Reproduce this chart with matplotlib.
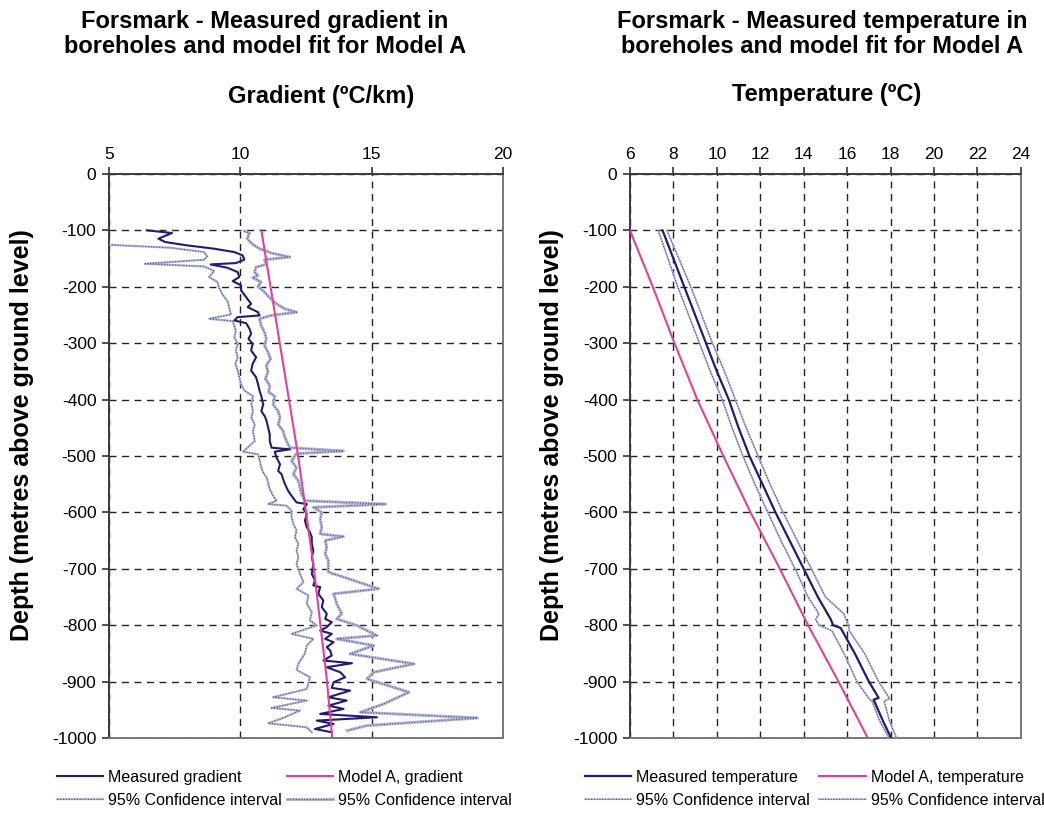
import matplotlib
matplotlib.use("Agg")
import matplotlib.pyplot as plt
from matplotlib.legend_handler import HandlerTuple

plt.rcParams['font.family'] = ['Liberation Sans', 'DejaVu Sans']
plt.rcParams['axes.unicode_minus'] = False

# ---- gradient panel data (depth in m, gradient in ºC/km) ----
grad_depth = [-100, -104.7, -114.8, -120.7, -126.6, -132.5, -138.5, -144.4, -152.1, -158, -160.4,
              -166.3, -174, -182.8, -190, -197.6, -206.5, -218.3, -230.2, -236.1, -245, -250.9,
              -253.8, -259.8, -264.5, -274.6, -283.4, -292.3, -301.2, -313, -324.9, -336.7,
              -348.5, -360.4, -372.2, -384,
              -394, -408.8, -420.6, -429.4, -438.2, -450, -461.8, -473.5, -485.3, -488.2, -492.4,
              -502.9, -514.7, -526.5, -532.4, -541.2, -550, -561.8, -570.6, -582.4, -585.3,
              -594.1, -602.9, -614.7, -626.5, -635.3, -644.1, -655.9, -667.6, -679.4, -691.2,
              -708.9, -720.7, -729.6, -732.5, -744.4, -756.2, -768, -779.9, -788.8, -794.7,
              -803.6, -809.5, -815.4, -824.3, -830.2, -839, -845, -853.8, -862.7, -867.5, -874.6,
              -883.4, -892.3, -901.2, -911.2, -916, -927.8, -933.7, -942.6, -948.5, -957.4,
              -963.3, -969.2, -975.1, -984, -989.9]
grad_meas = [6.44, 7.40, 6.88, 7.14, 7.97, 9.00, 9.77, 10.09, 10.15, 9.83, 8.87,
             9.51, 9.90, 9.96, 9.71, 10.03, 10.03, 10.22, 10.41, 10.28, 10.67, 10.73,
             9.90, 9.77, 10.22, 10.35, 10.41, 10.31, 10.47, 10.41, 10.60, 10.47,
             10.41, 10.60, 10.67, 10.73,
             10.80, 10.87, 10.80, 10.93, 11.00, 11.06, 11.12, 11.12, 11.19, 11.89, 11.31,
             11.38, 11.51, 11.44, 11.57, 11.63, 11.70, 11.82, 11.95, 12.14, 12.53,
             12.40, 12.53, 12.46, 12.53, 12.65, 12.72, 12.72, 12.78, 12.72, 12.78,
             12.72, 12.84, 12.78, 13.04, 12.97, 13.16, 13.10, 13.29, 13.23, 13.48,
             13.29, 13.04, 13.48, 13.23, 13.55, 13.29, 13.42, 13.48, 13.16, 14.25, 13.29,
             13.80, 13.99, 13.55, 13.48, 14.18, 13.35, 14.05, 13.35, 13.93, 13.04,
             15.20, 12.91, 13.55, 12.84, 13.48]

ci_low_depth = [-125.4, -130.8, -138.5, -146.2, -152.1, -159.2, -163.9, -172.2, -182.8, -191.7,
                -201.8, -213.6, -225.4, -237.3, -249.1, -256.8, -260.9, -277.5, -289.3, -301.2,
                -313, -324.9, -336.7, -348.5, -360.4, -372.2, -384,
                -394, -408.8, -420.6, -432.4, -444.1, -455.9, -473.5, -492.4, -497.1, -508.8,
                -520.6, -529.4, -538.2, -547.1, -558.8, -570.6, -579.4, -585.3, -588.2, -597.1,
                -608.8, -620.6, -632.4, -644.1, -655.9, -667.6, -679.4, -691.2,
                -708.9, -723.7, -735.5, -747.3, -762.1, -776.9, -791.7, -800.6, -815.4, -824.3,
                -836.1, -849.7, -868.6, -879.3, -892.3, -913, -927.8, -933.7, -946.7, -951.5,
                -964.5, -974, -981.1, -989.9]
ci_low = [4.90, 7.33, 8.62, 8.74, 8.62, 6.37, 8.62, 9.00, 8.81, 9.13,
          9.19, 9.32, 9.51, 9.58, 9.64, 8.81, 9.71, 9.83, 9.77, 9.90,
          9.83, 9.90, 9.81, 9.90, 9.96, 10.03, 10.15,
          10.48, 10.42, 10.48, 10.42, 10.55, 10.48, 10.55, 10.10, 10.68, 10.74,
          10.80, 10.87, 11.00, 11.06, 11.12, 11.25, 11.38, 11.06, 11.76, 11.95,
          11.95, 12.02, 12.14, 12.08, 12.21, 12.14, 12.21, 12.14,
          12.27, 12.40, 12.14, 12.59, 12.53, 12.72, 12.65, 12.91, 11.95, 12.78,
          12.53, 12.46, 12.21, 12.14, 12.65, 12.53, 11.25, 12.53, 11.19, 12.27,
          11.63, 11.06, 12.53, 12.72]

ci_high_depth = [-101.2, -104.7, -114.8, -124.9, -132.5, -140.2, -147.3, -152.1, -160.4, -165.1,
                 -174, -179.9, -184, -191.7, -199.4, -209.5, -219.5, -230.2, -239.1, -245,
                 -250.9, -256.8, -268.6, -280.5, -292.3, -304.1, -316, -327.8, -339.6, -351.5,
                 -363.3, -375.1, -387,
                 -394, -408.8, -420.6, -432.4, -444.1, -455.9, -467.6, -479.4, -485.3, -491.2,
                 -495.9, -508.8, -520.6, -532.4, -544.1, -555.9, -567.6, -579.4, -585.3, -591.2,
                 -600, -611.8, -626.5, -638.2, -642.9, -650, -661.8, -673.5, -685.3,
                 -705.9, -735.5, -744.4, -762.1, -779.9, -788.8, -800.6, -818.3, -824.3, -836.1,
                 -850.9, -868.6, -883.4, -895.3, -918.9, -939.6, -954.4, -964.5, -978.1, -987]
ci_high = [10.15, 10.35, 10.26, 10.47, 10.73, 11.18, 11.88, 10.92, 10.99, 10.60,
           10.54, 10.67, 10.47, 10.79, 10.67, 10.92, 11.12, 11.37, 11.69, 12.14,
           11.18, 10.73, 10.79, 10.92, 10.99, 10.92, 11.05, 11.15, 10.99, 11.05,
           10.95, 11.12, 11.08,
           11.31, 11.25, 11.44, 11.51, 11.44, 11.63, 11.70, 11.82, 11.89, 13.93,
           12.14, 11.95, 12.14, 12.02, 12.21, 12.27, 12.33, 12.46, 15.52, 12.78,
           13.10, 13.04, 13.10, 13.04, 13.93, 13.23, 13.29, 13.23, 13.35,
           13.35, 15.27, 13.55, 13.67, 13.86, 13.67, 14.44, 15.20, 13.67, 15.08,
           14.18, 16.61, 15.08, 14.82, 16.42, 15.46, 14.57, 19.03, 14.82, 14.06]

model_depth = [-100, -200, -300, -400, -500, -600, -700, -800, -900, -1000]
model_grad = [10.8, 11.15, 11.5, 11.85, 12.2, 12.5, 12.8, 13.05, 13.3, 13.5]

# ---- temperature panel data (ºC) ----
temp_depth = [-100, -150, -200, -250, -300, -350, -400, -450, -500, -550, -600, -650, -700,
              -750, -790, -800, -805, -850, -900, -929, -932, -970, -998]
temp_meas = [7.5, 8.0, 8.5, 9.0, 9.5, 10.0, 10.55, 11.0, 11.5, 12.1, 12.7, 13.35, 14.0,
             14.65, 15.25, 15.35, 15.7, 16.35, 17.0, 17.45, 17.22, 17.65, 18.0]

tci_depth = [-100, -150, -200, -250, -300, -350, -400, -450, -500, -550, -600, -650, -700,
             -750, -780, -790, -800, -810, -850, -900, -930, -935, -970, -998]
tci_low = [7.3, 7.75, 8.2, 8.7, 9.2, 9.7, 10.25, 10.7, 11.2, 11.75, 12.35, 12.95, 13.6,
           14.2, 14.7, 14.55, 14.7, 15.3, 15.85, 16.45, 17.0, 17.15, 17.5, 17.9]
tci_high = [7.7, 8.25, 8.8, 9.3, 9.8, 10.35, 10.85, 11.35, 11.9, 12.45, 13.05, 13.7, 14.35,
            15.0, 15.85, 15.95, 16.05, 16.1, 16.8, 17.45, 17.95, 17.7, 17.95, 18.25]

model_temp = [6.0, 7.05, 8.05, 9.1, 10.3, 11.55, 12.9, 14.2, 15.6, 16.95]

NAVY = '#231b73'
PINK = '#e0429b'
CI_BASE = '#b4b8d4'
CI_DOT = '#4d5390'


def ci_line(ax, x, y, base_lw):
    base, = ax.plot(x, y, color=CI_BASE, lw=base_lw, zorder=3)
    dots, = ax.plot(x, y, color=CI_DOT, lw=0.8, ls=(0, (1, 1.5)), zorder=3)
    return (base, dots)


def style_axes(ax, xmin, xmax, xstep, label_x):
    ax.set_xlim(xmin, xmax)
    ax.set_ylim(-1000, 0)
    ax.set_xticks(range(xmin, xmax + 1, xstep))
    ax.set_yticks(range(-1000, 1, 100))
    ax.xaxis.tick_top()
    ax.tick_params(axis='both', direction='out', length=5, width=1.2, labelsize=12.5,
                   color='#333333', pad=4)
    ax.tick_params(axis='x', pad=3.8)
    ax.grid(True, color='#222222', lw=1.0, ls=(0, (5, 4)))
    ax.set_axisbelow(True)
    for side in ['left', 'top']:
        ax.spines[side].set_color('#3a3a3a')
        ax.spines[side].set_linewidth(1.4)
    for side in ['right', 'bottom']:
        ax.spines[side].set_color('#777777')
        ax.spines[side].set_linewidth(1.4)
    ax.set_ylabel('Depth (metres above ground level)', fontsize=18, fontweight='bold', va='center')
    ax.yaxis.set_label_coords(label_x, 0.537)


fig = plt.figure(figsize=(10.44, 8.14), dpi=100)
legend_kw = dict(ncol=2, loc='upper left', frameon=False, fontsize=11.5, handlelength=2.9,
                 handletextpad=0.3, labelspacing=0.5, borderpad=0, borderaxespad=0,
                 handler_map={tuple: HandlerTuple(ndivide=1)})

# left panel: gradient
ax1 = fig.add_axes([0.1044, 0.0934, 0.3774, 0.6929])
style_axes(ax1, 5, 20, 5, -0.221)
h_low = ci_line(ax1, ci_low, ci_low_depth, 1.6)
h_high = ci_line(ax1, ci_high, ci_high_depth, 2.2)
h_meas, = ax1.plot(grad_meas, grad_depth, color=NAVY, lw=1.5, zorder=4)
h_model, = ax1.plot(model_grad, model_depth, color=PINK, lw=1.5, zorder=5)

fig.text(265 / 1044, 1 - 34 / 814, 'Forsmark - Measured gradient in\nboreholes and model fit for Model A',
         ha='center', va='center', fontsize=17, fontweight='bold', linespacing=1.1)
fig.text(321 / 1044, 1 - 97 / 814, 'Gradient (ºC/km)', ha='center', va='center',
         fontsize=17, fontweight='bold')

fig.legend([h_meas, h_low, h_model, h_high],
           ['Measured gradient', '95% Confidence interval', 'Model A, gradient', '95% Confidence interval'],
           bbox_to_anchor=(57 / 1044, 1 - 770 / 814), columnspacing=0.3, **legend_kw)

# right panel: temperature
ax2 = fig.add_axes([0.6034, 0.0934, 0.3745, 0.6929])
style_axes(ax2, 6, 24, 2, -0.199)
t_low = ci_line(ax2, tci_low, tci_depth, 1.3)
t_high = ci_line(ax2, tci_high, tci_depth, 1.3)
t_meas, = ax2.plot(temp_meas, temp_depth, color=NAVY, lw=1.6, zorder=4)
t_model, = ax2.plot(model_temp, model_depth, color=PINK, lw=1.5, zorder=5)

fig.text(822 / 1044, 1 - 34 / 814, 'Forsmark - Measured temperature in\nboreholes and model fit for Model A',
         ha='center', va='center', fontsize=17, fontweight='bold', linespacing=1.1)
fig.text(827 / 1044, 1 - 95 / 814, 'Temperature (ºC)', ha='center', va='center',
         fontsize=17, fontweight='bold')

fig.legend([t_meas, t_low, t_model, t_high],
           ['Measured temperature', '95% Confidence interval', 'Model A, temperature', '95% Confidence interval'],
           bbox_to_anchor=(585 / 1044, 1 - 770 / 814), columnspacing=0.6, **legend_kw)

fig.savefig('out.png', dpi=100)
